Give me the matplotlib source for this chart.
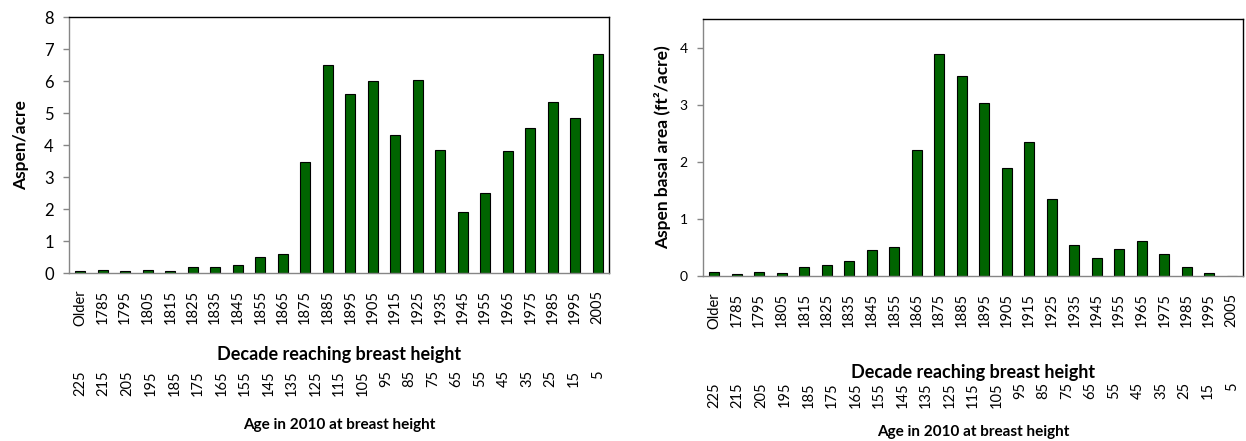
import matplotlib
matplotlib.use('Agg')
import matplotlib.pyplot as plt
import matplotlib.transforms as mtransforms
import numpy as np

plt.rcParams['font.family'] = ['Lato', 'DejaVu Sans']

# ── data ──
decades = ['Older', '1785', '1795', '1805', '1815', '1825', '1835', '1845', '1855',
           '1865', '1875', '1885', '1895', '1905', '1915', '1925', '1935', '1945',
           '1955', '1965', '1975', '1985', '1995', '2005']
ages = ['225', '215', '205', '195', '185', '175', '165', '155', '145', '135', '125',
        '115', '105', '95', '85', '75', '65', '55', '45', '35', '25', '15', '5']
aspen_per_acre = [0.05, 0.08, 0.05, 0.08, 0.05, 0.18, 0.18, 0.25, 0.50, 0.58, 3.48,
                  6.50, 5.59, 6.01, 4.31, 6.04, 3.85, 1.92, 2.50, 3.82, 4.52, 5.34,
                  4.85, 6.84]
basal_area = [0.07, 0.03, 0.07, 0.05, 0.15, 0.19, 0.26, 0.45, 0.51, 2.21, 3.89,
              3.50, 3.03, 1.89, 2.35, 1.35, 0.54, 0.31, 0.47, 0.62, 0.38, 0.15,
              0.05, 0.0]

GREEN = '#006400'
AXIS_GREY = '#868686'
W, H = 1246, 441
fig = plt.figure(figsize=(W / 100, H / 100), dpi=100)


def px_axes(x0, y0, x1, y1):
    return fig.add_axes([x0 / W, 1 - y1 / H, (x1 - x0) / W, (y1 - y0) / H])


def draw_panel(ax, values, ymax, yticks, ylabel, tick_fs, ylab_pad,
               y_dec, y_age, y_age_title):
    x = np.arange(len(decades))
    ax.bar(x, values, width=0.45, color=GREEN, edgecolor='black', linewidth=0.8)
    ax.set_xlim(-0.5, len(decades) - 0.5)
    ax.set_ylim(0, ymax)
    ax.set_yticks(yticks)
    ax.set_xticks(x)
    ax.set_xticklabels(decades, rotation=90, fontsize=10.5)
    ax.tick_params(axis='x', length=0, pad=12)
    ax.tick_params(axis='y', labelsize=tick_fs, length=4, width=1,
                   color=AXIS_GREY, direction='out', pad=7)
    for side, s in ax.spines.items():
        s.set_linewidth(1.0)
        s.set_color(AXIS_GREY if side in ('left', 'bottom') else 'black')
    ax.set_ylabel(ylabel, fontsize=12.5, fontweight='bold', labelpad=ylab_pad)
    trans = mtransforms.blended_transform_factory(ax.transData, ax.transAxes)
    ax.text(0.5, y_dec, 'Decade reaching breast height', transform=ax.transAxes,
            ha='center', va='center', fontsize=13, fontweight='bold')
    age_x = np.linspace(0, len(decades) - 1, len(ages))
    for xa, lab in zip(age_x, ages):
        ax.text(xa, y_age, lab, transform=trans, rotation=90, ha='center', va='top',
                fontsize=10.5)
    ax.text(0.5, y_age_title, 'Age in 2010 at breast height', transform=ax.transAxes,
            ha='center', va='center', fontsize=11, fontweight='bold')


ax1 = px_axes(69, 17, 609, 273)
draw_panel(ax1, aspen_per_acre, 8, range(0, 9), 'Aspen/acre', 12, 11,
           -0.32, -0.379, -0.594)

ax2 = px_axes(703, 19, 1243, 276)
draw_panel(ax2, basal_area, 4.5, range(0, 5), 'Aspen basal area (ft²/acre)', 10, 6,
           -0.377, -0.412, -0.607)

plt.savefig('out.png', dpi=100, facecolor='white')
